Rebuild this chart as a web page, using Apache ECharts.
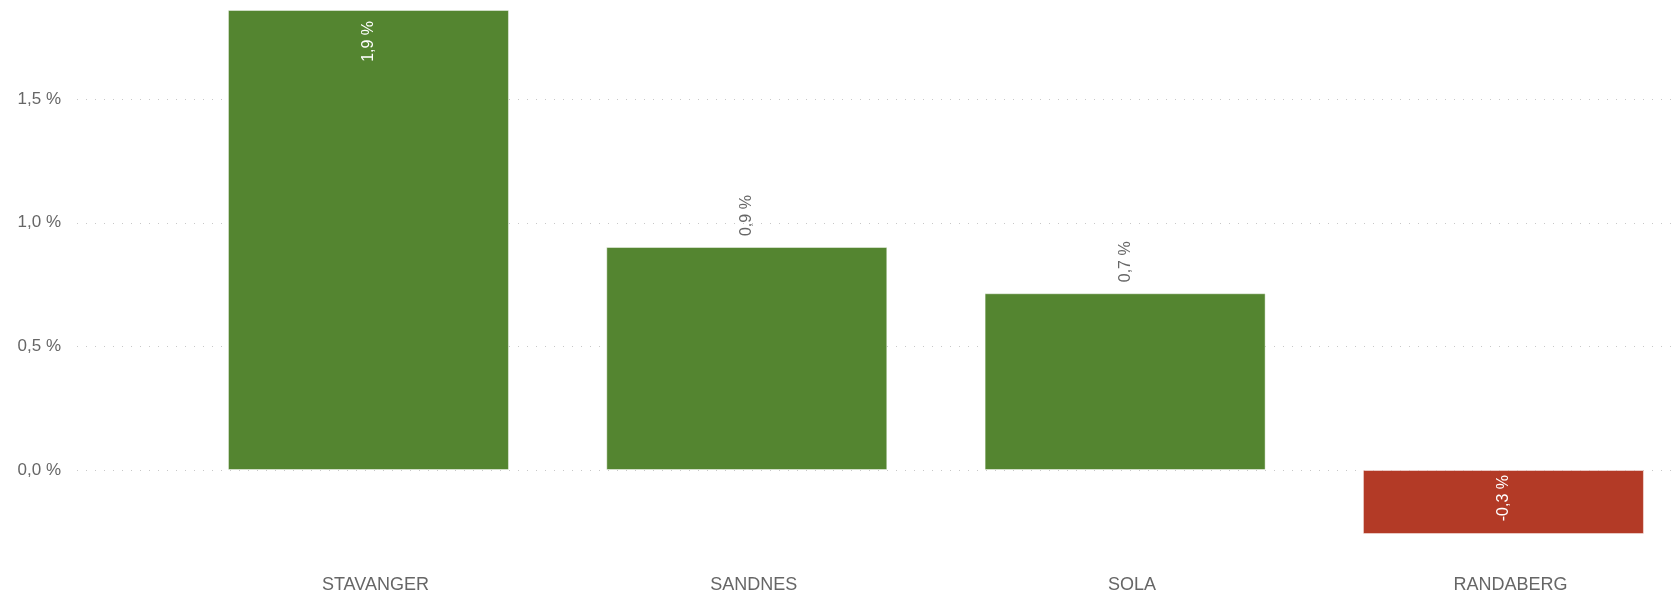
<!DOCTYPE html>
<html>
<head>
<meta charset="utf-8">
<script src="https://cdn.jsdelivr.net/npm/echarts@6/dist/echarts.min.js"></script>
<style>
html,body{margin:0;padding:0;background:#fff;}
#chart{width:1677px;height:592px;}
</style>
</head>
<body>
<div id="chart"></div>
<script>
const categories = ['STAVANGER', 'SANDNES', 'SOLA', 'RANDABERG'];
const values = [1.861, 0.902, 0.715, -0.259];
const yTicks = { min: -0.5, max: 2.0, interval: 0.5 };

const FONT = "'Liberation Sans', Arial, sans-serif";
const fmt = v => v.toFixed(1).replace('.', ',') + ' %';
const GREEN = '#548530';
const RED = '#b33a26';

const barData = values.map((v, i) => {
  const inside = (i === 0 || v < 0);
  return {
    value: v,
    itemStyle: { color: v >= 0 ? GREEN : RED },
    label: inside
      ? { position: 'insideTop', distance: v < 0 ? 5 : 11, align: 'right', color: '#ffffff' }
      : { position: 'top', distance: 11, align: 'left', color: '#666666' }
  };
});

const chart = echarts.init(document.getElementById('chart'));
chart.setOption({
  animation: false,
  backgroundColor: '#ffffff',
  textStyle: { fontFamily: FONT },
  grid: [
    { left: 77, right: 0, top: -24.4, bottom: -1.6, outerBoundsMode: 'none', containLabel: false },
    { left: 179.3, right: -15.6, top: -24.4, bottom: -1.6, outerBoundsMode: 'none', containLabel: false }
  ],
  xAxis: [
    { gridIndex: 0, type: 'category', data: categories, show: false },
    {
      gridIndex: 1, type: 'category', data: categories,
      position: 'bottom', offset: -26,
      axisLine: { show: false, onZero: false },
      axisTick: { show: false },
      splitLine: { show: false },
      axisLabel: { fontSize: 18, color: '#666666', fontFamily: FONT, margin: 8, padding: [0, 0, 0, 14] }
    }
  ],
  yAxis: [
    {
      gridIndex: 0, type: 'value', min: yTicks.min, max: yTicks.max, interval: yTicks.interval,
      axisLine: { show: false }, axisTick: { show: false },
      axisLabel: { formatter: fmt, fontSize: 17, color: '#666666', fontFamily: FONT, margin: 16,
                   showMinLabel: false, showMaxLabel: false },
      splitLine: { show: true, lineStyle: { type: [1, 8], color: '#c8c8c8', width: 1 } }
    },
    {
      gridIndex: 1, type: 'value', min: yTicks.min, max: yTicks.max, interval: yTicks.interval,
      show: false, splitLine: { show: false }
    }
  ],
  series: [{
    type: 'bar',
    xAxisIndex: 1, yAxisIndex: 1,
    barWidth: 281,
    data: barData,
    itemStyle: { borderColor: 'rgba(255,255,255,0.45)', borderWidth: 1 },
    label: {
      show: true, rotate: 90, verticalAlign: 'middle',
      fontSize: 16, fontFamily: FONT,
      formatter: p => fmt(Math.round(p.value * 10) / 10)
    }
  }]
});
</script>
</body>
</html>
